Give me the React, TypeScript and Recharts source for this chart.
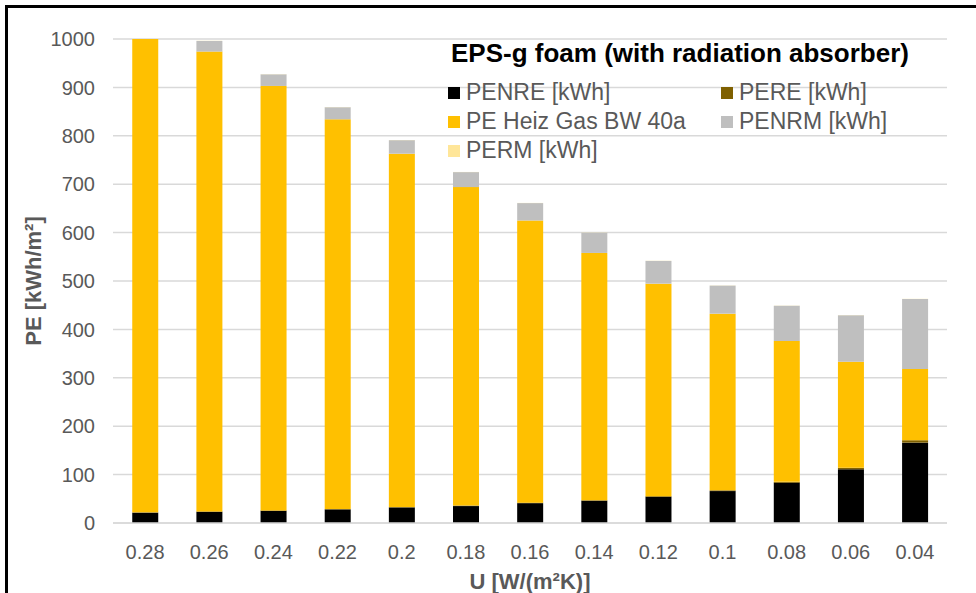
import { Bar, BarChart, CartesianGrid, XAxis, YAxis } from "recharts"

const categories = ["0.28", "0.26", "0.24", "0.22", "0.2", "0.18", "0.16", "0.14", "0.12", "0.1", "0.08", "0.06", "0.04"]
const penre = [21, 23, 25, 28, 32, 35, 41, 46, 54, 66, 83, 111, 166]
const pere = [1, 1, 1, 1, 1, 1, 1, 1, 1.5, 1.5, 2, 3, 5]
const gas = [1023, 950, 877, 805, 730, 658, 583, 511, 439, 365, 291, 219, 147]
const penrm = [22, 22, 24, 25, 28, 31, 36, 42, 47, 58, 73, 96, 145]
const perm = [0.3, 0.3, 0.3, 0.3, 0.3, 0.3, 0.3, 0.3, 0.3, 0.3, 0.3, 0.3, 0.3]
const yTicks = [0, 100, 200, 300, 400, 500, 600, 700, 800, 900, 1000]

const series = [
    { key: "penre", name: "PENRE [kWh]", color: "#000000" },
    { key: "pere", name: "PERE [kWh]", color: "#7F6000" },
    { key: "gas", name: "PE Heiz Gas BW 40a", color: "#FFC000" },
    { key: "penrm", name: "PENRM [kWh]", color: "#BFBFBF" },
    { key: "perm", name: "PERM [kWh]", color: "#FFE699" },
]

const data = categories.map((u, i) => ({
    u,
    penre: penre[i],
    pere: pere[i],
    gas: gas[i],
    penrm: penrm[i],
    perm: perm[i],
}))

const font = "'Liberation Sans', Arial, sans-serif"
const grey = "#595959"

function ChartLegend() {
    return (
        <div style={{ position: "absolute", left: 448, top: 30, width: 520, fontFamily: font }}>
            <div style={{ fontWeight: "bold", fontSize: 26, color: "#000", marginLeft: 3, lineHeight: "46px", whiteSpace: "nowrap" }}>
                EPS-g foam (with radiation absorber)
            </div>
            <div style={{ display: "grid", gridTemplateColumns: "273px 240px", marginTop: 2 }}>
                {series.map(s => (
                    <div key={s.key} style={{ display: "flex", alignItems: "center", height: 29, color: grey, fontSize: 23, whiteSpace: "nowrap" }}>
                        <span style={{ width: 12, height: 12, background: s.color, marginRight: 6, display: "inline-block" }} />
                        {s.name}
                    </div>
                ))}
            </div>
        </div>
    )
}

export default function App() {
    return (
        <div style={{ position: "fixed", left: 0, top: 0, width: 976, height: 593, background: "#fff", overflow: "hidden" }}>
            <div style={{ position: "absolute", left: 5, top: 5, width: 1000, height: 1000, border: "3px solid #000" }} />
            <BarChart
                width={976}
                height={593}
                data={data}
                margin={{ top: 39, right: 29, bottom: 0, left: 0 }}
                barCategoryGap="30%"
                style={{ fontFamily: font }}
            >
                <CartesianGrid vertical={false} stroke="#D9D9D9" strokeWidth={1.5} />
                <XAxis
                    dataKey="u"
                    height={70}
                    tickLine={false}
                    axisLine={{ stroke: "#D9D9D9", strokeWidth: 1.5 }}
                    tickMargin={16}
                    tick={{ fill: grey, fontSize: 20 }}
                    label={{
                        content: (p: any) => (
                            <text x={p.viewBox.x + p.viewBox.width / 2} y={p.viewBox.y + 66} textAnchor="middle"
                                fill={grey} fontSize={22} fontWeight="bold">U [W/(m²K)]</text>
                        ),
                    }}
                />
                <YAxis
                    width={113}
                    domain={[0, 1000]}
                    ticks={yTicks}
                    allowDataOverflow
                    tickLine={false}
                    axisLine={false}
                    tickMargin={12}
                    tick={{ fill: grey, fontSize: 20 }}
                    label={{
                        content: (p: any) => {
                            const cx = 33
                            const cy = p.viewBox.y + p.viewBox.height / 2
                            return (
                                <text x={cx} y={cy} textAnchor="middle" dominantBaseline="central"
                                    transform={`rotate(-90 ${cx} ${cy})`}
                                    fill={grey} fontSize={22} fontWeight="bold">PE [kWh/m²]</text>
                            )
                        },
                    }}
                />
                {series.map(s => (
                    <Bar key={s.key} dataKey={s.key} name={s.name} stackId="a" fill={s.color} isAnimationActive={false} />
                ))}
            </BarChart>
            <ChartLegend />
        </div>
    )
}
